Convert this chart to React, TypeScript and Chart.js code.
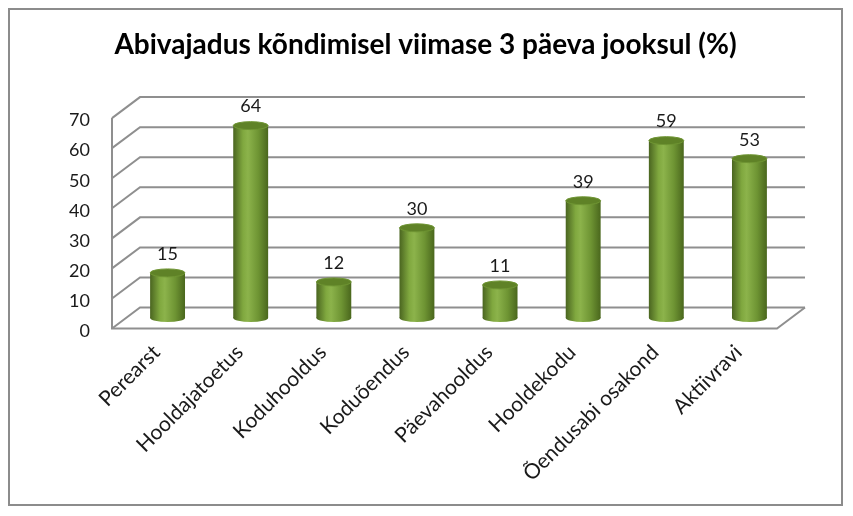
import React, { useEffect, useRef } from "react";
import { Chart, registerables } from "chart.js";

Chart.register(...registerables);

const titleText = "Abivajadus kõndimisel viimase 3 päeva jooksul (%)";
const categories = [
  "Perearst",
  "Hooldajatoetus",
  "Koduhooldus",
  "Koduõendus",
  "Päevahooldus",
  "Hooldekodu",
  "Õendusabi osakond",
  "Aktiivravi",
];
const values = [15, 64, 12, 30, 11, 39, 59, 53];
const yTicks = [0, 10, 20, 30, 40, 50, 60, 70];

const FONT = "Lato, 'Open Sans', sans-serif";
const DX = 14;
const DY = 10.5;
const BAR_PCT = 0.42;

const framePlugin = {
  id: "frame3d",
  beforeDatasetsDraw(chart: any) {
    const { ctx, chartArea, scales } = chart;
    const { left, right } = chartArea;
    const y = scales.y;
    ctx.save();
    ctx.strokeStyle = "#8f8f8f";
    ctx.lineWidth = 2;
    for (const v of yTicks) {
      const py = y.getPixelForValue(v);
      ctx.beginPath();
      ctx.moveTo(left - DX, py + DY);
      ctx.lineTo(left + DX, py - DY);
      ctx.lineTo(right + DX, py - DY);
      ctx.stroke();
    }
    const p0 = y.getPixelForValue(0);
    const pTop = y.getPixelForValue(yTicks[yTicks.length - 1]);
    ctx.beginPath();
    ctx.moveTo(left - DX, pTop + DY);
    ctx.lineTo(left - DX, p0 + DY);
    ctx.lineTo(right - DX, p0 + DY);
    ctx.lineTo(right + DX, p0 - DY);
    ctx.stroke();
    ctx.restore();
  },
  afterDatasetsDraw(chart: any) {
    const { ctx } = chart;
    const meta = chart.getDatasetMeta(0);
    ctx.save();
    meta.data.forEach((bar: any, i: number) => {
      const { x, y, base, width } = bar.getProps(["x", "y", "base", "width"], true);
      const rx = width / 2;
      const ry = 4;
      const g = ctx.createLinearGradient(x - rx, 0, x + rx, 0);
      g.addColorStop(0, "#4a6520");
      g.addColorStop(0.28, "#80a83f");
      g.addColorStop(0.42, "#8cb34b");
      g.addColorStop(0.72, "#6e9433");
      g.addColorStop(1, "#4a671d");
      ctx.fillStyle = g;
      ctx.beginPath();
      ctx.ellipse(x, base, rx, ry, 0, 0, Math.PI * 2);
      ctx.fill();
      ctx.fillStyle = "#5f8227";
      ctx.beginPath();
      ctx.ellipse(x, y, rx, ry, 0, 0, Math.PI * 2);
      ctx.fill();
      ctx.strokeStyle = "#6f9533";
      ctx.lineWidth = 1;
      ctx.stroke();
      ctx.fillStyle = "#1a1a1a";
      ctx.font = `18px ${FONT}`;
      ctx.textAlign = "center";
      ctx.textBaseline = "middle";
      ctx.fillText(String(values[i]), x, y - 19);
    });
    ctx.restore();
  },
};

export default function App() {
  const ref = useRef<HTMLCanvasElement>(null);
  useEffect(() => {
    if (!ref.current) return;
    const chart = new Chart(ref.current, {
      type: "bar",
      data: {
        labels: categories,
        datasets: [
          {
            data: values,
            categoryPercentage: 1,
            barPercentage: BAR_PCT,
            borderWidth: 0,
            backgroundColor: (c: any) => {
              const ch = c.chart;
              const xs = ch.scales?.x;
              if (!ch.chartArea || !xs) return "#77a03a";
              const x = xs.getPixelForValue(c.dataIndex);
              const w = (xs.width / categories.length) * BAR_PCT;
              const g = ch.ctx.createLinearGradient(x - w / 2, 0, x + w / 2, 0);
              g.addColorStop(0, "#4a6520");
              g.addColorStop(0.28, "#80a83f");
              g.addColorStop(0.42, "#8cb34b");
              g.addColorStop(0.72, "#6e9433");
              g.addColorStop(1, "#4a671d");
              return g;
            },
          },
        ],
      },
      options: {
        responsive: false,
        animation: false,
        layout: { padding: 0 },
        plugins: {
          legend: { display: false },
          tooltip: { enabled: false },
          title: {
            display: true,
            text: titleText,
            color: "#000",
            font: { family: FONT, size: 28, weight: "bold" },
            padding: { top: 18, bottom: 46 },
          },
        },
        scales: {
          x: {
            grid: { display: false },
            border: { display: false },
            ticks: {
              color: "#1a1a1a",
              font: { family: FONT, size: 21 },
              maxRotation: 45,
              minRotation: 45,
              padding: 14,
              labelOffset: -11,
            },
            afterFit: (s: any) => {
              s.height = 186;
            },
          },
          y: {
            min: 0,
            max: 70,
            grid: { display: false, drawTicks: false },
            border: { display: false },
            ticks: {
              stepSize: 10,
              color: "#1a1a1a",
              font: { family: FONT, size: 18 },
              padding: 36,
              labelOffset: 13,
            },
            afterFit: (s: any) => {
              s.width = 116;
            },
          },
          yRight: {
            position: "right",
            display: true,
            min: 0,
            max: 70,
            grid: { display: false, drawTicks: false },
            border: { display: false },
            ticks: { display: false },
            afterFit: (s: any) => {
              s.width = 50;
            },
          },
        },
      },
      plugins: [framePlugin],
    });
    return () => chart.destroy();
  }, []);
  return (
    <div
      style={{
        width: 835,
        height: 498,
        border: "2px solid #8c8c8c",
        boxSizing: "border-box",
        background: "#fff",
      }}
    >
      <canvas ref={ref} width={831} height={494} style={{ width: 831, height: 494, display: "block" }} />
    </div>
  );
}
